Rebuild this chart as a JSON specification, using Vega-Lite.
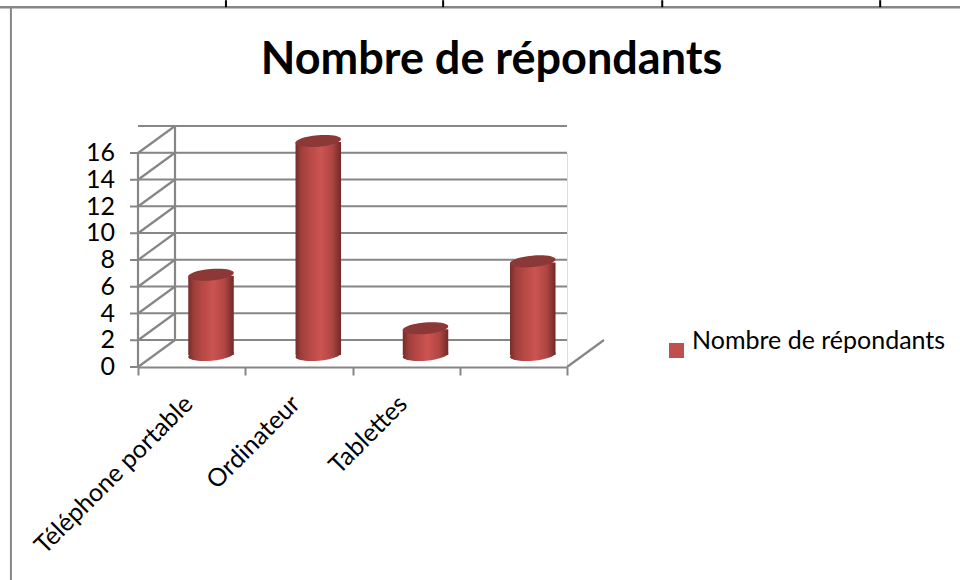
{"$schema":"https://vega.github.io/schema/vega-lite/v6.json","width":429,"height":214,"autosize":"none","padding":{"left":138,"top":153,"right":393,"bottom":213},"background":"white","title":{"text":"Nombre de répondants","font":"Lato","fontSize":45,"fontWeight":"bold","color":"#000000","anchor":"middle","frame":"group","dx":139,"offset":-84},"datasets":{"bars":[{"categorie":"Téléphone portable","repondants":6,"serie":"Nombre de répondants"},{"categorie":"Ordinateur","repondants":16,"serie":"Nombre de répondants"},{"categorie":"Tablettes","repondants":2,"serie":"Nombre de répondants"},{"categorie":" ","repondants":7,"serie":"Nombre de répondants"}],"ticks":[{"v":0},{"v":2},{"v":4},{"v":6},{"v":8},{"v":10},{"v":12},{"v":14},{"v":16}],"pageH":[{"y":26.9,"x":-1.29,"x2":7.67}],"pageV":[{"x":-1.185,"y":26.9,"y2":-15.93}],"pageT":[{"x":0.82},{"x":2.845},{"x":4.888},{"x":6.92}]},"layer":[{"layer":[{"data":{"name":"pageH"},"mark":{"type":"rule","color":"#868686","strokeWidth":2.5},"encoding":{"x":{"field":"x","type":"quantitative","scale":{"domain":[0,4],"nice":false,"zero":false},"axis":null},"x2":{"field":"x2"},"y":{"field":"y","type":"quantitative","scale":{"domain":[0,16],"nice":false},"axis":null}}},{"data":{"name":"pageV"},"mark":{"type":"rule","color":"#868686","strokeWidth":2},"encoding":{"x":{"field":"x","type":"quantitative"},"y":{"field":"y","type":"quantitative"},"y2":{"field":"y2"}}},{"data":{"name":"pageT"},"mark":{"type":"rule","color":"#000000","strokeWidth":2,"yOffset":-7,"y2Offset":0},"encoding":{"x":{"field":"x","type":"quantitative"},"y":{"datum":26.9,"type":"quantitative"},"y2":{"datum":26.9}}},{"data":{"name":"ticks"},"mark":{"type":"rule","color":"#868686","strokeWidth":2.2,"yOffset":-27},"encoding":{"x":{"datum":0,"type":"quantitative"},"x2":{"datum":4},"y":{"field":"v","type":"quantitative"}}},{"data":{"name":"ticks"},"mark":{"type":"rule","color":"#868686","strokeWidth":2.2,"x2Offset":37,"y2Offset":-27},"encoding":{"x":{"datum":0,"type":"quantitative"},"x2":{"datum":0},"y":{"field":"v","type":"quantitative"},"y2":{"field":"v"}}},{"data":{"name":"ticks"},"mark":{"type":"rule","color":"#868686","strokeWidth":2,"x2Offset":-8},"encoding":{"x":{"datum":0,"type":"quantitative"},"x2":{"datum":0},"y":{"field":"v","type":"quantitative"},"y2":{"field":"v"}}},{"data":{"name":"ticks"},"mark":{"type":"text","font":"Lato","fontSize":25,"color":"#000000","align":"right","baseline":"middle","dx":-23},"encoding":{"x":{"datum":0,"type":"quantitative"},"y":{"field":"v","type":"quantitative"},"text":{"field":"v","type":"quantitative"}}},{"data":{"values":[{"a":0,"b":16}]},"mark":{"type":"rule","color":"#868686","strokeWidth":2.2},"encoding":{"x":{"datum":0,"type":"quantitative"},"y":{"field":"a","type":"quantitative"},"y2":{"field":"b"}}},{"data":{"values":[{"a":0,"b":16}]},"mark":{"type":"rule","color":"#868686","strokeWidth":2.2,"xOffset":37,"yOffset":-27,"y2Offset":-27},"encoding":{"x":{"datum":0,"type":"quantitative"},"y":{"field":"a","type":"quantitative"},"y2":{"field":"b"}}},{"data":{"values":[{"a":0}]},"mark":{"type":"rule","color":"#868686","strokeWidth":2.2,"x2Offset":37,"y2Offset":-27},"encoding":{"x":{"datum":4,"type":"quantitative"},"x2":{"datum":4},"y":{"field":"a","type":"quantitative"},"y2":{"field":"a"}}}]},{"data":{"name":"bars"},"layer":[{"mark":{"type":"point","filled":true,"opacity":1,"xOffset":19.4,"yOffset":-12,"size":2070,"shape":"M-1,0.09 A1,0.25 -5 1 1 1,-0.09 A1,0.25 -5 1 1 -1,0.09 Z","fill":{"x1":0,"x2":1,"y1":0,"y2":0,"gradient":"linear","stops":[{"offset":0,"color":"#752B29"},{"offset":0.12,"color":"#9E3E3B"},{"offset":0.3,"color":"#B54845"},{"offset":0.55,"color":"#CC5451"},{"offset":0.8,"color":"#B04643"},{"offset":1,"color":"#722A28"}]},"stroke":null},"encoding":{"x":{"field":"categorie","type":"nominal","sort":null},"y":{"datum":0,"type":"quantitative","axis":null}}},{"mark":{"type":"bar","size":45.5,"xOffset":19.4,"yOffset":-11,"y2Offset":-12,"fill":{"x1":0,"x2":1,"y1":0,"y2":0,"gradient":"linear","stops":[{"offset":0,"color":"#752B29"},{"offset":0.12,"color":"#9E3E3B"},{"offset":0.3,"color":"#B54845"},{"offset":0.55,"color":"#CC5451"},{"offset":0.8,"color":"#B04643"},{"offset":1,"color":"#722A28"}]}},"encoding":{"x":{"field":"categorie","type":"nominal","sort":null,"scale":{"paddingInner":0,"paddingOuter":0},"axis":{"orient":"bottom","title":null,"labelAngle":-45,"labelAlign":"right","labelBaseline":"top","labelFont":"Lato","labelFontSize":25,"labelColor":"#000000","labelPadding":16,"labelOffset":-12,"labelLimit":0,"tickBand":"extent","tickColor":"#868686","tickWidth":2,"tickSize":8,"domainColor":"#868686","domainWidth":2.2,"grid":false}},"y":{"field":"repondants","type":"quantitative","scale":{"domain":[0,16],"nice":false},"axis":null},"y2":{"datum":0},"color":{"field":"serie","type":"nominal","scale":{"range":["#C0504D"]},"legend":{"title":null,"orient":"none","legendX":526,"legendY":185,"padding":0,"labelFont":"Lato","labelFontSize":25,"labelColor":"#000000","labelLimit":0,"symbolType":"square","symbolSize":225,"labelOffset":3,"encode":{"symbols":{"update":{"fill":{"value":"#C0504D"},"stroke":{"value":null},"opacity":{"value":1}}},"labels":{"update":{"dy":{"value":-10}}}}}}}},{"mark":{"type":"point","filled":true,"opacity":1,"xOffset":19.4,"yOffset":-12,"size":2070,"shape":"M-1,0.09 A1,0.25 -5 1 1 1,-0.09 A1,0.25 -5 1 1 -1,0.09 Z","fill":"#8C3836","stroke":null},"encoding":{"x":{"field":"categorie","type":"nominal","sort":null},"y":{"field":"repondants","type":"quantitative","axis":null}}}]}],"resolve":{"scale":{"x":"independent"},"axis":{"x":"independent","y":"independent"}}}
